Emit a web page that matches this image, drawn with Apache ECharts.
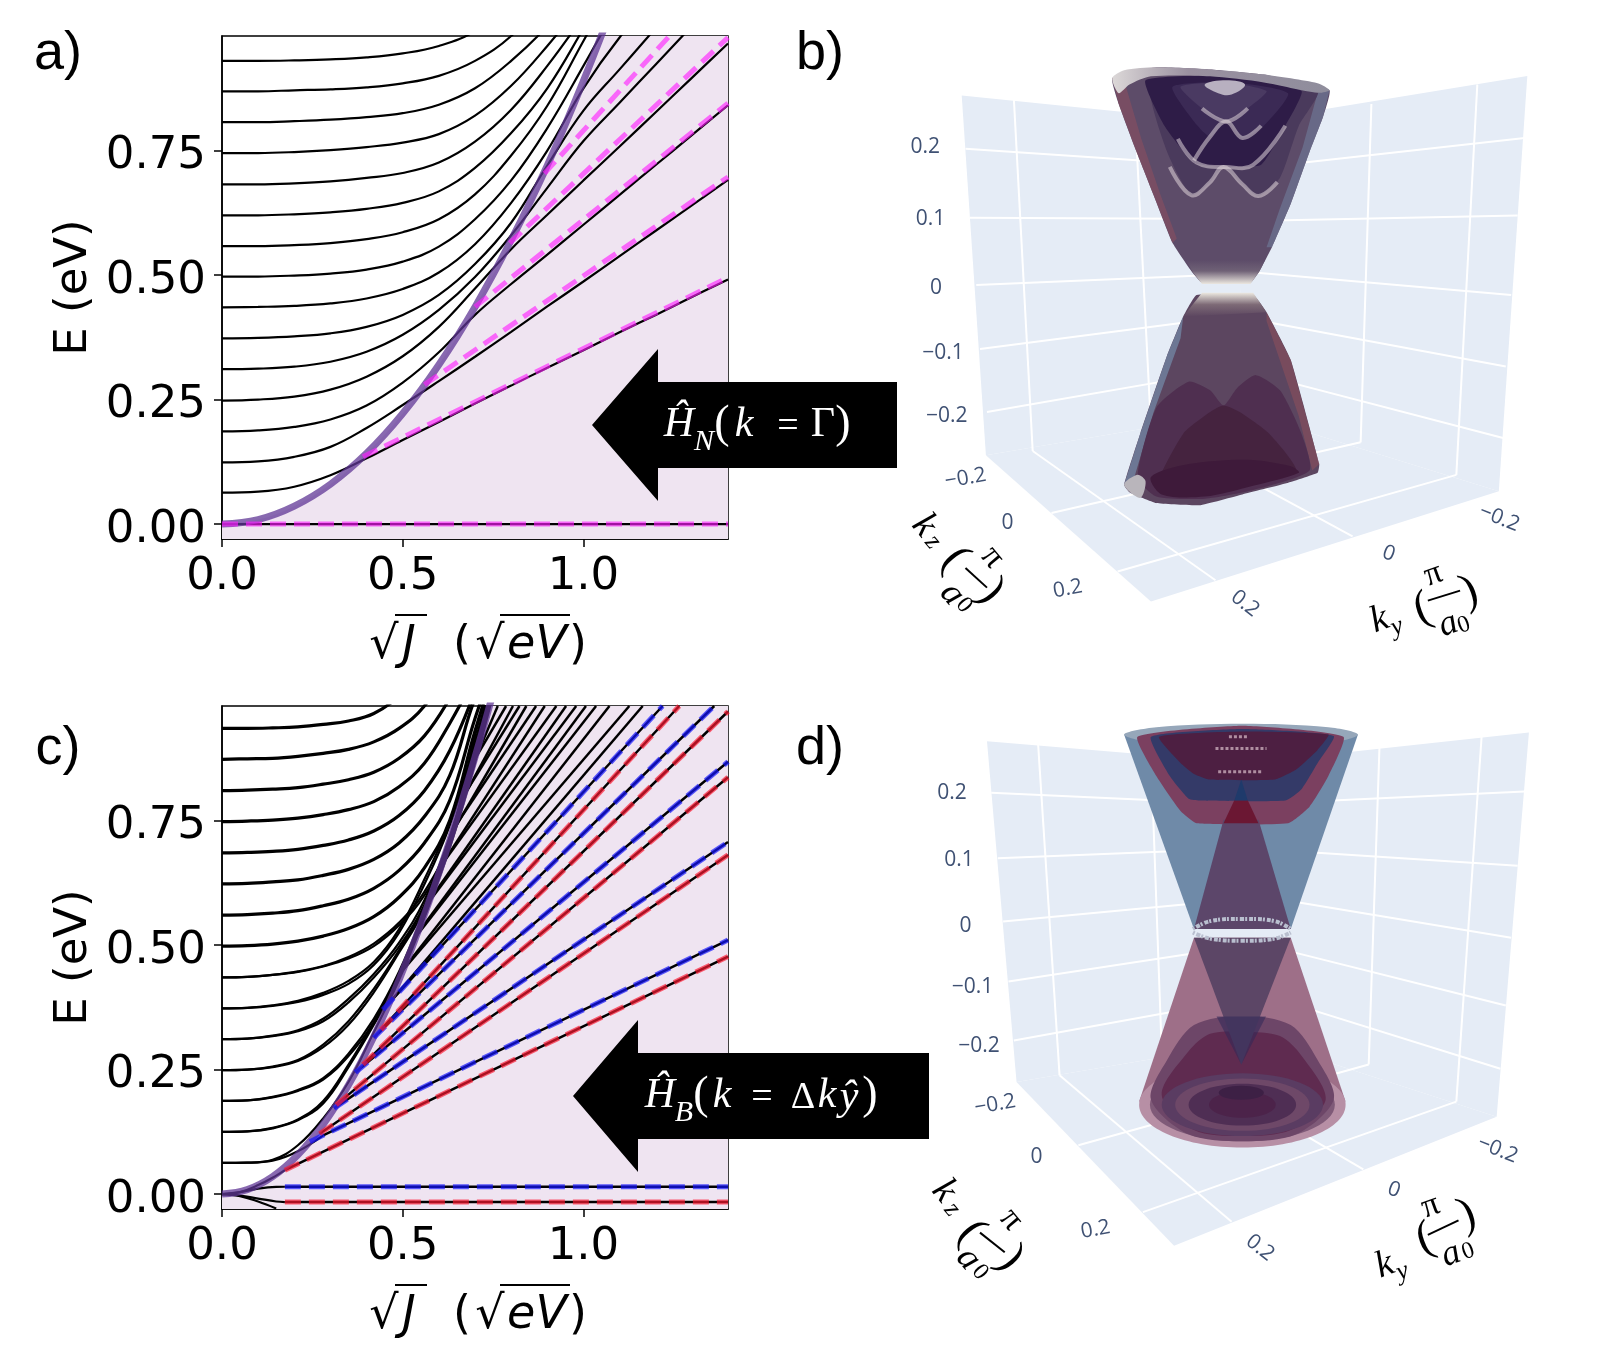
<!DOCTYPE html>
<html>
<head>
<meta charset="utf-8">
<style>html,body{margin:0;padding:0;background:#fff}#chart{width:1623px;height:1365px}</style>
<script src="https://cdn.jsdelivr.net/npm/echarts@6/dist/echarts.min.js"></script>
</head>
<body>
<div id="chart"></div>
<script>
// panel a: levels read at xA, a list may stop once it has left the top of the plot
var xA = [0, .1, .2, .3, .4, .5, .6, .7, .8, .9, 1.0, 1.1, 1.2, 1.3, 1.4];
var levelsA = [
    [.063, .065, .075, .098, .132, .169, .205, .242, .278, .314, .349, .385, .420, .456, .491],
    [.124, .126, .135, .155, .193, .239, .287, .336, .386, .437, .487, .538, .589, .64, .691],
    [.186, .188, .195, .21, .238, .284, .345, .42, .482, .541, .601, .661, .721, .781, .841],
    [.248, .25, .256, .27, .296, .337, .396, .473, .552, .621, .69, .758, .827, .896, .965],
    [.311, .312, .316, .326, .346, .38, .43, .496, .58, .675, .769, .846, .923, 1.0],
    [.373, .374, .377, .383, .396, .42, .46, .522, .605, .72, .83, .913, .996],
    [.435, .436, .438, .443, .453, .472, .505, .562, .645, .75, .875, .977, 1.06],
    [.497, .497, .499, .503, .511, .527, .557, .612, .69, .795, .92, 1.05],
    [.558, .558, .56, .564, .572, .586, .612, .662, .74, .84, .97, 1.1],
    [.62, .62, .622, .626, .633, .645, .668, .715, .785, .875, .995, 1.12],
    [.682, .682, .684, .688, .695, .705, .726, .768, .832, .92, 1.02],
    [.745, .745, .747, .751, .757, .766, .783, .82, .88, .96, 1.05],
    [.807, .807, .809, .812, .817, .825, .842, .875, .93, 1.0, 1.09],
    [.869, .869, .871, .873, .877, .885, .90, .93, .98, 1.06],
    [.93, .93, .931, .933, .937, .945, .96, .99, 1.05]
];
var zeroA = [0, 0, 1.4, 0];
var boundaryA = [0, .009, .036, .08, .142, .222, .32, .436, .57, .72, .89, 1.077, 1.28, 1.5, 1.74];
// x1, E1, x2, E2
var pinkA = [
    [0, 0, 1.4, 0],
    [.39, .135, 1.4, .495],
    [.56, .28, 1.4, .697],
    [.70, .436, 1.4, .845],
    [.796, .564, 1.4, .977],
    [.892, .704, 1.238, .98]
];

// panel c
var xC = [0, .07, .14, .21, .28, .35, .42, .49, .56, .63, .7, .77, .84, .91, .98, 1.05, 1.12, 1.19, 1.26, 1.33, 1.4];
var boundaryC = [0, .009, .035, .079, .14, .219, .316, .43, .561, .71, .877, 1.06, 1.26, 1.48, 1.72, 1.97, 2.25, 2.53, 2.84, 3.17, 3.51];
var levelsLowC = [
    [.0625, .063, .067, .086, .118],
    [.125, .126, .132, .148, .182, .255, .34, .435, .56, .70, .87, 1.07],
    [.187, .188, .194, .207, .23, .277, .345, .44, .565, .70, .875, 1.07],
    [.249, .25, .255, .267, .295, .34, .405, .485, .572, .705, .88, 1.08],
    [.311, .312, .317, .327, .347, .385, .435, .497, .58, .71, .885, 1.09],
    [.373, .374, .378, .386, .40, .422, .46, .525, .622, .74, .90, 1.1],
    [.435, .436, .44, .446, .457, .473, .498, .54, .60, .70, .90, 1.1]
];
var levelsUpC = [
    [.0625, .063, .069, .098, .152, .225, .325, .43, .555, .695, .865, 1.06],
    [.125, .126, .133, .15, .187, .26, .345, .44, .565, .705, .875, 1.08],
    [.187, .188, .195, .209, .233, .282, .352, .447, .57, .705, .88, 1.08],
    [.249, .25, .256, .269, .30, .347, .412, .49, .58, .71, .885, 1.09],
    [.311, .312, .318, .329, .352, .392, .442, .505, .59, .718, .893, 1.1],
    [.373, .374, .379, .388, .404, .428, .466, .532, .632, .748, .908, 1.11],
    [.435, .436, .44, .447, .458, .476, .503, .545, .607, .71, .92, 1.12]
];
var levelsThickC = [
    [.498, .499, .502, .508, .518, .533, .557, .596, .655, .75, .93, 1.09],
    [.56, .561, .564, .569, .579, .592, .614, .65, .705, .79, .955, 1.1],
    [.623, .624, .627, .631, .64, .652, .672, .705, .758, .84, .995, 1.1],
    [.685, .686, .688, .692, .70, .711, .729, .76, .81, .89, 1.01],
    [.748, .749, .751, .755, .762, .772, .788, .818, .865, .945, 1.04],
    [.81, .811, .813, .816, .823, .832, .847, .875, .92, .995, 1.09],
    [.873, .874, .875, .879, .885, .893, .908, .935, .98, 1.06],
    [.935, .935, .936, .938, .943, .95, .965, 1.0, 1.06]
];
var xNearZero = [0, .05, .1, .15, .174];
var branchBlue = [0, .004, .011, .0145, .0147];
var branchRed = [0, -.003, -.009, -.015, -.016];
var branchUp = [0, .004, .018, .037, .048];
var branchDown = [0, -.004, -.015, -.029];
// black straight parts, x1, E1, x2, E2
var blackC = [
    [.174, .0147, 1.4, .0147],
    [.174, -.016, 1.4, -.016],
    [.174, .048, 1.4, .477],
    [.28, .118, 1.4, .51],
    [.27, .121, 1.4, .681],
    [.31, .172, 1.4, .707],
    [.316, .179, 1.4, .837],
    [.369, .244, 1.4, .868],
    [.39, .26, 1.4, .969],
    [.42, .314, 1.362, .98],
    [.44, .33, 1.265, .98],
    [.445, .37, 1.219, .98],
    [.463, .384, 1.164, .98],
    [.5, .449, 1.127, .98],
    [.503, .453, 1.072, .98],
    [.538, .518, 1.035, .98],
    [.54, .522, 1.007, .98],
    [.573, .587, .98, .98],
    [.574, .59, .952, .98],
    [.607, .66, .925, .98],
    [.607, .66, .893, .98],
    [.64, .733, .869, .98],
    [.638, .727, .842, .98],
    [.669, .80, .823, .98],
    [.667, .795, .805, .98],
    [.697, .87, .786, .98],
    [.695, .864, .763, .98]
];
var blueC = [
    [.174, .0147, 1.4, .0147],
    [.243, .105, 1.4, .51],
    [.31, .172, 1.4, .707],
    [.369, .244, 1.4, .868],
    [.42, .314, 1.362, .98],
    [.445, .37, 1.219, .98]
];
var redC = [
    [.174, -.016, 1.4, -.016],
    [.174, .048, 1.4, .477],
    [.27, .121, 1.4, .681],
    [.316, .179, 1.4, .837],
    [.39, .26, 1.4, .969],
    [.44, .33, 1.265, .98]
];
var tickE = [0, .25, .5, .75];
var tickJ = [0, .5, 1.0];

// 3d panels, in scene units of each panel's hidden 1568 x 1568 axes
var wallsB = [
    [338, 220, 850, 285, 860, 950, 383, 1050],
    [1390, 175, 850, 285, 860, 950, 1337, 1133],
    [383, 1050, 690, 1387, 1337, 1133, 860, 950]
];
var gridB = [
    [345, 343, 850, 385], [353, 502, 850, 505], [365, 657, 850, 632], [372, 805, 850, 728], [385, 950, 850, 850],
    [1385, 318, 850, 392], [1372, 497, 850, 510], [1360, 680, 850, 625], [1350, 845, 850, 730], [1345, 1010, 850, 850],
    [435, 228, 470, 1040], [660, 255, 690, 985], [1297, 195, 1258, 1095], [1100, 240, 1080, 1020],
    [470, 1040, 810, 1338], [690, 985, 1065, 1237], [505, 1183, 1080, 1020], [628, 1318, 1258, 1095]
];
var wallsD = [
    [385, 140, 870, 190, 895, 825, 440, 920],
    [1393, 120, 870, 190, 895, 825, 1333, 1000],
    [440, 920, 733, 1295, 1333, 1000, 895, 825]
];
var gridD = [
    [393, 258, 870, 285], [405, 408, 870, 385], [415, 553, 870, 500], [425, 690, 880, 605], [435, 825, 885, 725],
    [1385, 255, 870, 285], [1372, 425, 870, 385], [1360, 590, 870, 490], [1350, 745, 880, 600], [1340, 890, 885, 715],
    [480, 145, 520, 905], [690, 170, 710, 850], [1305, 130, 1258, 965], [1115, 155, 1095, 880],
    [520, 905, 840, 1240], [710, 850, 1085, 1120], [555, 1065, 1095, 880], [675, 1218, 1258, 965]
];
// polygon outlines of the surfaces: colour, smoothing, points
var neckTopB = { type: 'linear', x: 0, y: 0, x2: 0, y2: 1, colorStops: [{ offset: 0, color: '#5d4c69' }, { offset: .45, color: '#6f6176' }, { offset: 1, color: '#ece8e0' }] };
var neckLowB = { type: 'linear', x: 0, y: 0, x2: 0, y2: 1, colorStops: [{ offset: 0, color: '#ece8e0' }, { offset: .5, color: '#7d6a76' }, { offset: 1, color: '#5c4660' }] };
var rimB = { type: 'linear', x: 0, y: 0, x2: 1, y2: 0, colorStops: [{ offset: 0, color: '#dcd8d8' }, { offset: .35, color: '#9a90a0' }, { offset: 1, color: '#8f8d9c' }] };
var surfaceB = [
    ['#5d4c69', .12, [618, 180, 700, 155, 800, 160, 900, 172, 1022, 208, 1010, 270, 985, 350, 950, 470, 915, 570, 892, 625, 875, 652, 785, 652, 765, 625, 730, 560, 695, 450, 660, 340, 630, 240]],
    ['rgba(128,78,98,.8)', 0, [618, 180, 640, 185, 672, 320, 708, 450, 738, 550, 730, 560, 695, 450, 660, 340, 630, 240]],
    ['rgba(108,112,142,.8)', 0, [1022, 208, 1000, 214, 972, 340, 930, 480, 905, 570, 915, 570, 950, 470, 985, 350, 1010, 270]],
    ['#4a3a5c', .2, [690, 190, 720, 350, 765, 450, 800, 420, 825, 385, 860, 425, 890, 452, 930, 410, 965, 290, 1000, 210, 850, 178]],
    ['#2e1c47', .15, [680, 185, 715, 290, 770, 375, 830, 385, 895, 380, 940, 290, 970, 210, 850, 175]],
    ['#3b2a55', .2, [730, 200, 770, 280, 800, 315, 830, 280, 860, 318, 900, 290, 945, 215, 840, 190]],
    ['#4a3a62', .2, [745, 200, 785, 250, 830, 280, 870, 250, 905, 210, 830, 190]],
    ['#b8b0c0', .4, [790, 195, 815, 215, 840, 218, 865, 195, 830, 185]],
    [rimB, .25, [618, 180, 640, 162, 700, 155, 800, 160, 900, 172, 1000, 192, 1022, 208, 1000, 214, 900, 190, 800, 176, 690, 176, 650, 195, 630, 215]],
    ['#5c4660', .12, [775, 680, 880, 680, 905, 720, 950, 830, 1003, 1070, 1000, 1090, 940, 1115, 860, 1140, 780, 1165, 700, 1160, 650, 1135, 640, 1118, 670, 1000, 720, 820, 750, 730]],
    ['rgba(112,128,158,.85)', 0, [640, 1118, 658, 1105, 695, 950, 745, 780, 750, 730, 720, 820, 670, 1000]],
    ['rgba(130,78,92,.75)', 0, [1003, 1070, 990, 1085, 965, 960, 905, 740, 905, 720, 950, 830]],
    ['#4f2f50', .2, [665, 1100, 700, 940, 760, 880, 800, 900, 825, 935, 850, 895, 885, 865, 930, 900, 970, 1000, 985, 1085, 880, 1130, 790, 1150, 700, 1145]],
    ['#45233f', .2, [700, 1130, 750, 1000, 800, 950, 825, 935, 855, 950, 910, 1000, 960, 1085, 880, 1115, 790, 1135]],
    ['#3e1a3a', .3, [690, 1100, 760, 1070, 870, 1060, 950, 1075, 965, 1090, 880, 1120, 790, 1145, 710, 1140]],
    ['#b9b5bb', .3, [640, 1118, 665, 1095, 680, 1110, 670, 1148]],
    [neckTopB, 0, [755, 600, 902, 600, 892, 625, 875, 655, 785, 655, 768, 628]],
    [neckLowB, 0, [785, 675, 880, 675, 905, 720, 750, 730]]
];
var ridgesB = [
    [725, 385, 765, 450, 800, 420, 825, 385, 860, 425, 890, 452, 925, 420],
    [770, 370, 800, 315, 830, 280, 860, 318, 895, 290],
    [740, 320, 775, 375, 830, 385, 880, 380, 940, 290],
    [785, 250, 830, 280, 870, 250]
];
var ringsOuterD = [
    [860, 972, 192, 98, '#b78fa5'],
    [860, 972, 172, 84, '#7f5a78']
];
var ringsInnerD = [
    [860, 972, 150, 72, '#5a3c62'],
    [860, 972, 125, 60, '#6e4868'],
    [860, 972, 100, 48, '#4f2e54'],
    [860, 972, 62, 30, '#4c234a'],
    [858, 945, 42, 16, '#3d2045']
];
var surfaceD = [
    ['#9e6f88', 0, [770, 590, 950, 590, 1052, 965, 668, 965]],
    ['#6f8aa8', 0, [640, 125, 1075, 125, 950, 570, 770, 570]],
    ['#96a7ba', .35, [640, 125, 700, 108, 860, 100, 1020, 108, 1075, 125, 1020, 145, 860, 155, 700, 145]],
    ['#7b4060', .15, [665, 130, 700, 220, 745, 300, 775, 328, 945, 328, 985, 290, 1020, 220, 1048, 130, 860, 105]],
    ['#343a68', .15, [690, 130, 725, 220, 760, 272, 780, 276, 940, 276, 970, 250, 1000, 190, 1030, 128, 860, 112]],
    ['#4d1f42', .15, [705, 130, 745, 190, 770, 215, 800, 228, 920, 228, 960, 205, 1000, 160, 1020, 125, 860, 118]],
    ['#5c466a', 0, [770, 570, 950, 570, 890, 320, 825, 320]],
    ['#6b1733', 0, [825, 328, 890, 328, 870, 275, 845, 275]],
    ['#1f3a6b', 0, [845, 276, 870, 276, 858, 228]]
];
var domesD = [
    ['#6d4668', .3, [690, 960, 720, 870, 770, 790, 860, 768, 950, 790, 1000, 870, 1030, 960, 960, 1040, 860, 1056, 760, 1040]],
    ['#5f2b50', .3, [710, 950, 760, 850, 800, 810, 860, 805, 930, 815, 970, 860, 1015, 960, 950, 1030, 860, 1044, 770, 1030]]
];
var coneLowD = [
    ['#5c4666', 0, [770, 590, 950, 590, 858, 880]],
    ['rgba(48,40,88,.55)', 0, [812, 770, 904, 770, 858, 880]]
];
var ringD = [
    [768, 570, 800, 552, 860, 547, 920, 552, 950, 570],
    [768, 578, 800, 592, 860, 597, 920, 592, 950, 578]
];
var specksD = [
    [815, 210, 895, 210], [810, 157, 905, 157], [835, 130, 870, 130]
];
// text, x, y, rotation in degrees, size
var ticksB = [
    ['0.2', 270, 340, 0], ['0.1', 280, 505, 0], ['0', 290, 665, 0], ['\u22120.1', 303, 815, 0], ['\u22120.2', 310, 960, 0],
    ['\u22120.2', 345, 1103, 10], ['0', 423, 1207, 0], ['0.2', 535, 1358, 10],
    ['\u22120.2', 1338, 1195, -22], ['0', 1132, 1277, -20], ['0.2', 865, 1392, -38]
];
var ticksD = [
    ['0.2', 320, 258, 0], ['0.1', 333, 413, 0], ['0', 345, 562, 0], ['\u22120.1', 358, 703, 0], ['\u22120.2', 370, 838, 0],
    ['\u22120.2', 400, 972, 10], ['0', 477, 1093, 0], ['0.2', 587, 1258, 10],
    ['\u22120.2', 1335, 1075, -22], ['0', 1142, 1167, -20], ['0.2', 893, 1300, -38]
];
var mathB = [
    ['k', 268, 1212, -50, 38], ['z', 284, 1250, -50, 26], ['(', 325, 1290, -50, 46], ['\u03c0', 395, 1285, -50, 34],
    ['a', 320, 1370, -50, 36], ['0', 342, 1396, -50, 24], [')', 392, 1365, -50, 46],
    ['k', 1115, 1430, 20, 38], ['y', 1148, 1446, 20, 26], ['(', 1195, 1405, 20, 46], ['\u03c0', 1215, 1325, 20, 34],
    ['a', 1243, 1440, 20, 36], ['0', 1272, 1442, 20, 24], [')', 1282, 1365, 20, 46]
];
var mathD = [
    ['k', 305, 1170, -50, 38], ['z', 320, 1212, -50, 26], ['(', 355, 1265, -50, 46], ['\u03c0', 430, 1235, -50, 34],
    ['a', 350, 1325, -50, 36], ['0', 372, 1356, -50, 24], [')', 428, 1325, -50, 46],
    ['k', 1125, 1340, 20, 38], ['y', 1158, 1355, 20, 26], ['(', 1200, 1280, 20, 46], ['\u03c0', 1210, 1205, 20, 34],
    ['a', 1248, 1315, 20, 36], ['0', 1280, 1308, 20, 24], [')', 1278, 1225, 20, 46]
];
var barsB = [[345, 1310, 385, 1355], [1205, 1385, 1265, 1362]];
var barsD = [[372, 1265, 418, 1310], [1205, 1270, 1262, 1237]];

var DEJAVU = '"DejaVu Sans"';
var SERIF = '"Liberation Serif"';
var BLACK = '#000';

function toPairs(xs, ys) {
    return ys.map(function (y, i) { return [xs[i], y]; });
}

function curve(grid, xs, ys, width, z) {
    return {
        type: 'line', xAxisIndex: grid, yAxisIndex: grid, data: toPairs(xs, ys),
        symbol: 'none', smooth: .4, silent: true, z: z || 3,
        lineStyle: { color: BLACK, width: width || 2.2 }
    };
}

function segment(grid, s, color, width, dash, z) {
    return {
        type: 'line', xAxisIndex: grid, yAxisIndex: grid, data: [[s[0], s[1]], [s[2], s[3]]],
        symbol: 'none', silent: true, z: z,
        lineStyle: { color: color, width: width, type: dash || 'solid' }
    };
}

function boundary(grid, xs, ys) {
    return [{
        type: 'line', xAxisIndex: grid, yAxisIndex: grid, data: toPairs(xs, ys),
        symbol: 'none', smooth: .4, silent: true, z: 1,
        lineStyle: { width: 0 },
        areaStyle: { color: '#efe4f1', opacity: 1, origin: 'start' }
    }, {
        type: 'line', xAxisIndex: grid, yAxisIndex: grid, data: toPairs(xs, ys),
        symbol: 'none', smooth: .4, silent: true, z: 4,
        lineStyle: { color: 'rgba(96,55,150,.75)', width: 7 }
    }];
}

function points(api, flat) {
    var out = [];
    for (var i = 0; i < flat.length; i += 2) {
        out.push(api.coord([flat[i], flat[i + 1]]));
    }
    return out;
}

// one custom series per drawing job, all on the hidden scene axes
function polys(grid, list, z) {
    return {
        type: 'custom', xAxisIndex: grid, yAxisIndex: grid, silent: true, z: z, clip: false,
        data: list.map(function (d, i) { return [i, i]; }),
        renderItem: function (params, api) {
            var d = list[params.dataIndex];
            return { type: 'polygon', shape: { points: points(api, d[2]), smooth: d[1] }, style: { fill: d[0] } };
        }
    };
}

function strokes(grid, list, color, width, dash, z, smooth) {
    return {
        type: 'custom', xAxisIndex: grid, yAxisIndex: grid, silent: true, z: z, clip: false,
        data: list.map(function (d, i) { return [i, i]; }),
        renderItem: function (params, api) {
            return {
                type: 'polyline',
                shape: { points: points(api, list[params.dataIndex]), smooth: smooth || 0 },
                style: { stroke: color, lineWidth: width, lineDash: dash || null, fill: null }
            };
        }
    };
}

function ellipses(grid, list, z) {
    return {
        type: 'custom', xAxisIndex: grid, yAxisIndex: grid, silent: true, z: z, clip: false,
        data: list.map(function (d, i) { return [i, i]; }),
        renderItem: function (params, api) {
            var d = list[params.dataIndex];
            var c = api.coord([d[0], d[1]]);
            var r = api.size([d[2], d[3]]);
            return { type: 'ellipse', shape: { cx: c[0], cy: c[1], rx: r[0], ry: r[1] }, style: { fill: d[4] } };
        }
    };
}

function labels(grid, list, font, size, color, italic, z) {
    return {
        type: 'custom', xAxisIndex: grid, yAxisIndex: grid, silent: true, z: z, clip: false,
        data: list.map(function (d, i) { return [i, i]; }),
        renderItem: function (params, api) {
            var d = list[params.dataIndex];
            var c = api.coord([d[1], d[2]]);
            return {
                type: 'text', x: c[0], y: c[1], rotation: d[3] * Math.PI / 180,
                style: {
                    text: d[0], fontFamily: font, fontSize: d[4] || size,
                    fontStyle: italic && /[kzya]/.test(d[0]) ? 'italic' : 'normal',
                    fill: color, align: 'center', verticalAlign: 'middle'
                }
            };
        }
    };
}

function scene(grid, walls, lines, z0) {
    return [
        polys(grid, walls.map(function (w) { return ['#e5ecf6', 0, w]; }), z0),
        strokes(grid, lines, '#fff', 2, null, z0 + 1)
    ];
}

var series = [];
// panel a
series = series.concat(boundary(0, xA, boundaryA));
levelsA.forEach(function (l) { series.push(curve(0, xA, l)); });
series.push(segment(0, zeroA, BLACK, 2.2, null, 3));
pinkA.forEach(function (s) { series.push(segment(0, s, 'rgba(255,30,255,.63)', 5, [16, 8], 5)); });
// panel c
series = series.concat(boundary(1, xC, boundaryC));
levelsLowC.forEach(function (l) { series.push(curve(1, xC, l)); });
levelsUpC.forEach(function (l) { series.push(curve(1, xC, l)); });
levelsThickC.forEach(function (l) { series.push(curve(1, xC, l, 3.2)); });
[branchBlue, branchRed, branchUp, branchDown].forEach(function (l) { series.push(curve(1, xNearZero, l)); });
blackC.forEach(function (s) { series.push(segment(1, s, BLACK, 2.5, null, 3)); });
blueC.forEach(function (s) { series.push(segment(1, s, 'rgba(20,20,255,.69)', 5, [16, 8], 5)); });
redC.forEach(function (s) { series.push(segment(1, s, 'rgba(255,25,50,.68)', 5, [16, 8], 5)); });
// panel b
series = series.concat(scene(2, wallsB, gridB, 1));
series.push(polys(2, surfaceB, 3));
series.push(strokes(2, ridgesB, 'rgba(222,212,216,.55)', 4, null, 4, .4));
series.push(labels(2, ticksB, '"Open Sans"', 21, '#3f5173', false, 5));
series.push(labels(2, mathB, SERIF, 30, BLACK, true, 5));
series.push(strokes(2, barsB, BLACK, 2, null, 5));
// panel d
series = series.concat(scene(3, wallsD, gridD, 1));
series.push(polys(3, surfaceD, 3));
series.push(ellipses(3, ringsOuterD, 4));
series.push(polys(3, domesD, 5));
series.push(ellipses(3, ringsInnerD, 6));
series.push(polys(3, coneLowD, 7));
series.push(strokes(3, ringD, '#b9bfcf', 4, [2, 2, 4, 1], 8, .4));
series.push(strokes(3, specksD, 'rgba(200,170,185,.8)', 3, [3, 2], 8));
series.push(labels(3, ticksD, '"Open Sans"', 21, '#3f5173', false, 9));
series.push(labels(3, mathD, SERIF, 30, BLACK, true, 9));
series.push(strokes(3, barsD, BLACK, 2, null, 9));

function plotX(grid) {
    return {
        gridIndex: grid, type: 'value', min: 0, max: 1.4,
        axisLine: { onZero: false, lineStyle: { color: BLACK, width: 1.5 } },
        axisTick: { customValues: tickJ, length: 8, lineStyle: { color: BLACK, width: 1.5 } },
        axisLabel: {
            customValues: tickJ, color: BLACK, fontFamily: DEJAVU, fontSize: 45, margin: 16,
            formatter: function (v) { return v.toFixed(1); }
        },
        splitLine: { show: false }
    };
}

function plotY(grid) {
    return {
        gridIndex: grid, type: 'value', min: -.03, max: .98,
        name: 'E (eV)', nameLocation: 'middle', nameGap: 125, nameRotate: 90,
        nameTextStyle: { color: BLACK, fontFamily: DEJAVU, fontSize: 45 },
        axisLine: { onZero: false, lineStyle: { color: BLACK, width: 1.5 } },
        axisTick: { customValues: tickE, length: 8, lineStyle: { color: BLACK, width: 1.5 } },
        axisLabel: {
            customValues: tickE, margin: 16,
            rich: { v: { color: BLACK, fontFamily: DEJAVU, fontSize: 45, padding: [12, 0, 0, 0] } },
            formatter: function (v) { return '{v|' + v.toFixed(2) + '}'; }
        },
        splitLine: { show: false }
    };
}

function sceneAxis(grid, inverse) {
    return { gridIndex: grid, type: 'value', min: 0, max: 1568, inverse: inverse, show: false, splitLine: { show: false } };
}

function text(str, x, y, size, font, color, style, align) {
    return {
        type: 'text', x: x, y: y, z: 100, silent: true,
        style: {
            text: str, fontSize: size, fontFamily: font, fill: color || BLACK, fontStyle: style || 'normal',
            align: align || 'center', verticalAlign: 'middle'
        }
    };
}

function rule(x1, y, x2, z) {
    return { type: 'line', z: z || 100, silent: true, shape: { x1: x1, y1: y, x2: x2, y2: y }, style: { stroke: BLACK, lineWidth: 2 } };
}

function xName(dy) {
    return [
        text('\u221a', 384, 646 + dy, 46, DEJAVU),
        text('J', 409, 646 + dy, 46, DEJAVU, BLACK, 'italic'),
        rule(395, 615 + dy, 427),
        text('(', 462, 646 + dy, 46, DEJAVU),
        text('\u221a', 490, 646 + dy, 46, DEJAVU),
        text('eV', 537, 646 + dy, 46, DEJAVU, BLACK, 'italic'),
        rule(500, 615 + dy, 570),
        text(')', 578, 646 + dy, 46, DEJAVU)
    ];
}

function arrow(tip, mid, headX, rightX, spread, half) {
    return {
        type: 'polygon', z: 99, silent: true,
        shape: {
            points: [[tip, mid], [headX, mid - spread], [headX, mid - half], [rightX, mid - half],
                [rightX, mid + half], [headX, mid + half], [headX, mid + spread]]
        },
        style: { fill: BLACK }
    };
}

var WHITE = '#fff';
var graphics = [
    text('a)', 58, 54, 54, '"Liberation Sans"'),
    text('b)', 820, 54, 54, '"Liberation Sans"'),
    text('c)', 58, 749, 54, '"Liberation Sans"'),
    text('d)', 820, 749, 54, '"Liberation Sans"'),
    arrow(592, 425, 658, 897, 76, 43),
    arrow(573, 1096, 638, 929, 76, 43),
    text('\u0124', 679, 425, 42, SERIF, WHITE, 'italic'),
    text('N', 704, 442, 30, SERIF, WHITE, 'italic'),
    text('(', 722, 425, 46, SERIF, WHITE),
    text('k', 744, 425, 42, SERIF, WHITE, 'italic'),
    text('=', 788, 427, 38, SERIF, WHITE),
    text('\u0393', 823, 425, 42, SERIF, WHITE),
    text(')', 843, 425, 46, SERIF, WHITE),
    text('\u0124', 660, 1096, 42, SERIF, WHITE, 'italic'),
    text('B', 684, 1113, 30, SERIF, WHITE, 'italic'),
    text('(', 701, 1096, 46, SERIF, WHITE),
    text('k', 722, 1096, 42, SERIF, WHITE, 'italic'),
    text('=', 762, 1098, 38, SERIF, WHITE),
    text('\u0394', 803, 1098, 38, SERIF, WHITE),
    text('k', 827, 1096, 42, SERIF, WHITE, 'italic'),
    text('\u0177', 849, 1098, 42, SERIF, WHITE, 'italic'),
    text(')', 870, 1096, 46, SERIF, WHITE)
].concat(xName(0), xName(670));

var chart = echarts.init(document.getElementById('chart'), null, { renderer: 'canvas' });
chart.setOption({
    animation: false,
    backgroundColor: '#fff',
    grid: [
        { left: 222, top: 36, width: 506, height: 503, show: true, borderColor: BLACK, borderWidth: 1.5, backgroundColor: '#fff' },
        { left: 222, top: 706, width: 506, height: 503, show: true, borderColor: BLACK, borderWidth: 1.5, backgroundColor: '#fff' },
        { left: 780, top: 0, width: 843, height: 680 },
        { left: 780, top: 680, width: 843, height: 685 }
    ],
    xAxis: [plotX(0), plotX(1), sceneAxis(2, false), sceneAxis(3, false)],
    yAxis: [plotY(0), plotY(1), sceneAxis(2, true), sceneAxis(3, true)],
    series: series,
    graphic: { elements: graphics }
});
</script>
</body>
</html>
